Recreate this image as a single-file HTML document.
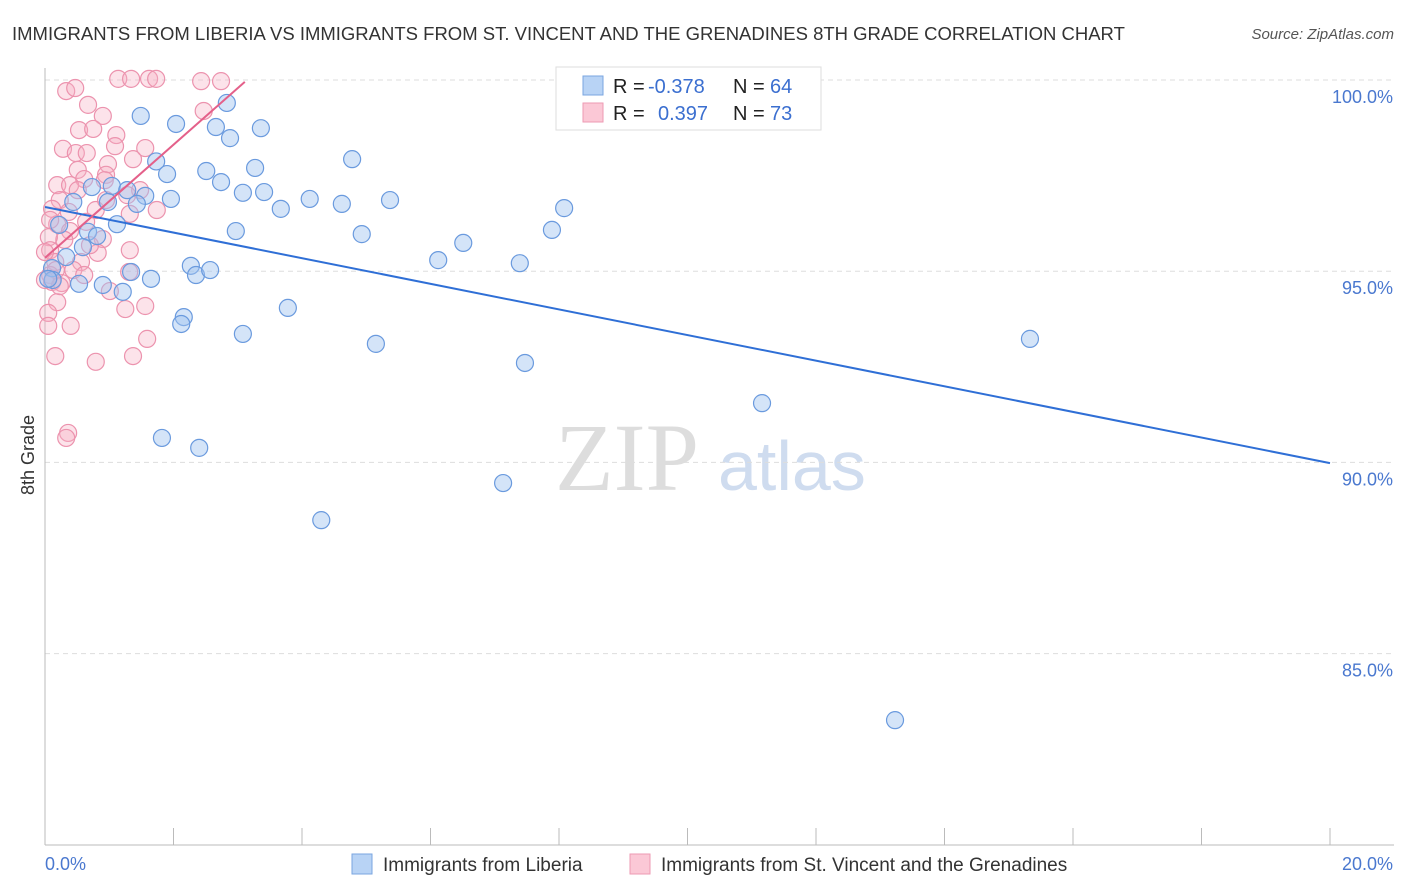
<!DOCTYPE html>
<html><head><meta charset="utf-8">
<style>
body{margin:0;width:1406px;height:892px;background:#fff;overflow:hidden;font-family:"Liberation Sans",sans-serif}
svg{position:absolute;left:0;top:0}
</style></head>
<body>
<svg id="chart" width="1406" height="892">
<text x="12" y="40" font-size="18.5" fill="#333">IMMIGRANTS FROM LIBERIA VS IMMIGRANTS FROM ST. VINCENT AND THE GRENADINES 8TH GRADE CORRELATION CHART</text>
<text x="1394" y="39" font-size="15" fill="#555" font-style="italic" text-anchor="end">Source: ZipAtlas.com</text>
<text x="555" y="490" font-size="96" fill="#ddd" font-family="Liberation Serif">ZIP</text>
<text x="718" y="490" font-size="70" fill="#cfdcef">atlas</text>
<text x="34" y="455" font-size="18" fill="#333" text-anchor="middle" transform="rotate(-90 34 455)">8th Grade</text>
<g id="grid"></g><g id="marks"></g>
<g>
<rect x="556" y="67" width="265" height="63" fill="#fff" stroke="#ddd"/>
<rect x="583" y="76" width="20" height="19" fill="#b8d3f5" stroke="#7aa6e0"/>
<rect x="583" y="103" width="20" height="19" fill="#fbc8d6" stroke="#ee9ab3"/>
<text y="93" font-size="20" fill="#222"><tspan x="613">R =</tspan><tspan x="648" fill="#3b6fd0">-0.378</tspan><tspan x="733">N =</tspan><tspan x="770" fill="#3b6fd0">64</tspan></text>
<text y="120" font-size="20" fill="#222"><tspan x="613">R =</tspan><tspan x="658" fill="#3b6fd0">0.397</tspan><tspan x="733">N =</tspan><tspan x="770" fill="#3b6fd0">73</tspan></text>
</g>
<g>
<rect x="352" y="854" width="20" height="20" fill="#b8d3f5" stroke="#7aa6e0"/>
<text x="383" y="871" font-size="19" fill="#333">Immigrants from Liberia</text>
<rect x="630" y="854" width="20" height="20" fill="#fbc8d6" stroke="#ee9ab3"/>
<text x="661" y="871" font-size="19" fill="#333">Immigrants from St. Vincent and the Grenadines</text>
</g>
</svg>
<script>
const yTicks=[100,95,90,85];
const yTickLabels=["100.0%","95.0%","90.0%","85.0%"];
const xTickLabels=["0.0%","20.0%"];
const blueX=[9.40,1.49,2.04,2.83,2.66,2.88,3.36,1.73,4.78,1.90,2.51,3.27,2.74,0.73,1.04,1.28,1.56,1.96,3.08,3.41,3.67,4.12,4.62,5.37,8.08,0.44,0.98,1.43,1.12,0.22,0.67,0.81,2.97,4.93,7.89,0.59,6.51,0.33,6.12,7.39,0.11,2.27,2.35,2.57,1.65,1.34,0.12,0.53,0.90,1.21,3.78,2.16,2.12,3.08,5.15,15.33,7.47,11.16,1.82,2.40,7.13,4.30,13.23,0.05];
const blueY=[100.05,99.06,98.85,99.40,98.77,98.48,98.74,97.87,97.93,97.54,97.62,97.70,97.33,97.20,97.23,97.12,96.97,96.89,97.05,97.07,96.63,96.89,96.76,96.86,96.65,96.81,96.81,96.76,96.23,96.21,96.03,95.92,96.05,95.97,96.08,95.63,95.74,95.37,95.29,95.21,95.08,95.14,94.90,95.03,94.80,94.98,94.77,94.67,94.64,94.46,94.04,93.80,93.62,93.36,93.10,93.23,92.60,91.55,90.64,90.38,89.46,88.49,83.26,94.80];
const pinkX=[1.14,1.34,1.62,1.73,2.43,2.74,0.33,0.47,0.67,0.90,2.47,0.53,0.75,1.11,0.28,0.48,0.65,1.09,1.56,0.98,1.37,0.51,0.95,0.61,0.19,0.39,0.51,0.93,1.48,1.28,0.23,0.11,0.37,0.79,0.95,1.74,1.32,0.64,0.19,0.39,0.30,0.90,0.06,0.08,0.82,0.56,0.16,0.44,0.08,0.61,0.11,0.26,1.31,1.01,0.19,1.25,1.56,0.05,0.40,0.05,1.59,0.16,0.79,1.37,0.36,0.33,0.17,0.00,0.00,0.08,1.32,0.70,0.23];
const pinkY=[100.03,100.03,100.03,100.03,99.97,99.97,99.71,99.79,99.35,99.06,99.19,98.69,98.72,98.56,98.20,98.09,98.09,98.27,98.22,97.80,97.93,97.65,97.52,97.41,97.25,97.25,97.12,97.38,97.12,96.99,96.86,96.63,96.55,96.60,96.86,96.60,96.50,96.29,96.23,96.05,95.82,95.84,95.89,95.55,95.48,95.24,95.24,95.03,94.90,94.90,94.72,94.69,94.98,94.48,94.19,94.01,94.09,93.91,93.57,93.57,93.23,92.78,92.63,92.78,90.77,90.64,95.03,94.77,95.50,96.34,95.55,95.68,94.61];
const blueTrend=[0,96.68,20,89.98];
const pinkTrend=[0,95.35,3.11,99.95];

const NS="http://www.w3.org/2000/svg";
const X0=45,X1=1330,Y100=80,PX5=191.2;
function sx(v){return X0+(X1-X0)*v/20;}
function sy(v){return Y100+(100-v)/5*PX5;}
function mk(tag,attrs,parent){const e=document.createElementNS(NS,tag);for(const k in attrs)e.setAttribute(k,attrs[k]);parent.appendChild(e);return e;}
const grid=document.getElementById('grid'),marks=document.getElementById('marks');
yTicks.forEach((t,i)=>{
 const l=mk('line',{x1:X0,x2:1394,y1:sy(t),y2:sy(t),stroke:'#ddd','stroke-dasharray':'5,4'},grid);
 
 
 const tx=mk('text',{x:1393,y:sy(t)+23,'font-size':18,fill:'#4a78cf','text-anchor':'end'},grid);
 tx.textContent=yTickLabels[i];
 
 
});
const ax=mk('line',{x1:X0,x2:X0,y1:68,y2:845,stroke:'#bbb'},grid);


const bx=mk('line',{x1:X0,x2:1394,y1:845,y2:845,stroke:'#bbb'},grid);


for(let i=0;i<=10;i++){
 const t=mk('line',{x1:sx(i*2),x2:sx(i*2),y1:828,y2:845,stroke:'#bbb'},grid);
 
 
}
[[0,'start',45],[20,'end',1393]].forEach((d,i)=>{
 const tx=mk('text',{x:d[2],y:870,'font-size':18,fill:'#4a78cf','text-anchor':d[1]},grid);
 tx.textContent=xTickLabels[i];
 
 
});
function dots(xs,ys,fill,stroke,name){
 xs.forEach((x,i)=>{
  const c=mk('circle',{cx:sx(x),cy:sy(ys[i]),r:8.5,fill:fill,stroke:stroke,'stroke-width':1.2},marks);
  
  
 });
}
dots(pinkX,pinkY,'rgba(246,175,196,0.35)','#ec93ae','point-stvincent');
dots(blueX,blueY,'rgba(160,196,240,0.45)','#6a9ade','point-liberia');
const bl=mk('line',{x1:sx(blueTrend[0]),y1:sy(blueTrend[1]),x2:sx(blueTrend[2]),y2:sy(blueTrend[3]),stroke:'#2f6fd6','stroke-width':2},marks);


const pl=mk('line',{x1:sx(pinkTrend[0]),y1:sy(pinkTrend[1]),x2:sx(pinkTrend[2]),y2:sy(pinkTrend[3]),stroke:'#e4608a','stroke-width':2},marks);


</script>
</body></html>
